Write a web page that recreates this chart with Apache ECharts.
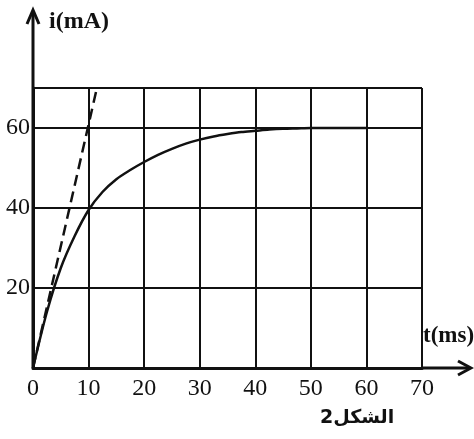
<!DOCTYPE html>
<html>
<head>
<meta charset="utf-8">
<script src="https://cdn.jsdelivr.net/npm/echarts@6/dist/echarts.min.js"></script>
<style>
  html, body { margin: 0; padding: 0; background: #fff; }
  #chart { width: 474px; height: 439px; }
</style>
</head>
<body>
<div id="chart"></div>
<script>
// courbe i(t)
const timeMs = [0, 2.5, 5, 7.5, 10, 12.5, 15, 17.5, 20, 22.5, 25, 27.5, 30, 32.5, 35, 37.5, 40, 42.5, 45, 47.5, 50, 55, 60]
const currentMa = [0, 14, 25, 33, 39.5, 44, 47.2, 49.5, 51.5, 53.3, 54.8, 56.1, 57.1, 57.9, 58.5, 59, 59.3, 59.6, 59.8, 59.9, 60, 60, 60]
// tangente à l'origine (pointillés)
const tangentT = [0, 11.5]
const tangentI = [0, 70]
const xTicks = [0, 10, 20, 30, 40, 50, 60, 70]
const yLabels = [20, 40, 60]

const serif = '"Liberation Serif", "DejaVu Serif", serif'
const ink = '#111'

const chart = echarts.init(document.getElementById('chart'))

const option = {
  animation: false,
  backgroundColor: '#fff',
  grid: { left: 33, right: 52, top: 88, bottom: 71, containLabel: false, outerBoundsMode: 'none' },
  xAxis: {
    type: 'value',
    min: xTicks[0],
    max: xTicks[xTicks.length - 1],
    interval: 10,
    axisLine: { show: true, lineStyle: { color: ink, width: 3 } },
    axisTick: { show: false },
    axisLabel: { color: ink, fontFamily: serif, fontSize: 24, margin: 9 },
    splitLine: { show: true, lineStyle: { color: ink, width: 2 } }
  },
  yAxis: {
    type: 'value',
    min: 0,
    max: 70,
    interval: 20,
    axisLine: { show: true, lineStyle: { color: ink, width: 3 } },
    axisTick: { show: false },
    axisLabel: {
      color: ink, fontFamily: serif, fontSize: 24, margin: 3,
      formatter: v => (yLabels.includes(v) ? String(v) : '')
    },
    splitLine: { show: true, lineStyle: { color: ink, width: 2 } }
  },
  series: [
    {
      type: 'line',
      data: timeMs.map((t, k) => [t, currentMa[k]]),
      smooth: 0.3,
      showSymbol: false,
      lineStyle: { color: ink, width: 2.5 },
      z: 3
    },
    {
      type: 'line',
      data: tangentT.map((t, k) => [t, tangentI[k]]),
      showSymbol: false,
      lineStyle: { color: ink, width: 2.5, type: [11, 6] },
      z: 3
    }
  ]
}

chart.setOption(option)

// flèches des axes et légendes
const o = chart.convertToPixel({ gridIndex: 0 }, [0, 0])
const xEnd = chart.convertToPixel({ gridIndex: 0 }, [70, 0])
chart.setOption({
  graphic: [
    { type: 'line', shape: { x1: o[0], y1: o[1], x2: o[0], y2: 12 }, style: { stroke: ink, lineWidth: 3 } },
    { type: 'polyline', shape: { points: [[o[0] - 6, 24], [o[0], 10], [o[0] + 6, 24]] }, style: { stroke: ink, lineWidth: 3, fill: null } },
    { type: 'line', shape: { x1: xEnd[0], y1: o[1], x2: 470, y2: o[1] }, style: { stroke: ink, lineWidth: 3 } },
    { type: 'polyline', shape: { points: [[458, o[1] - 7], [471, o[1]], [458, o[1] + 7]] }, style: { stroke: ink, lineWidth: 3, fill: null } },
    { type: 'text', left: 49, top: 10, style: { text: 'i(mA)', font: 'bold 24px ' + serif, fill: ink } },
    { type: 'text', left: 423, top: 325, style: { text: 't(ms)', font: 'bold 23px ' + serif, fill: ink } },
    { type: 'text', left: 320, top: 409, style: { text: '\u202Bالشكل2\u202C', font: 'bold 19px "DejaVu Sans", sans-serif', fill: ink } }
  ]
})
</script>
</body>
</html>
